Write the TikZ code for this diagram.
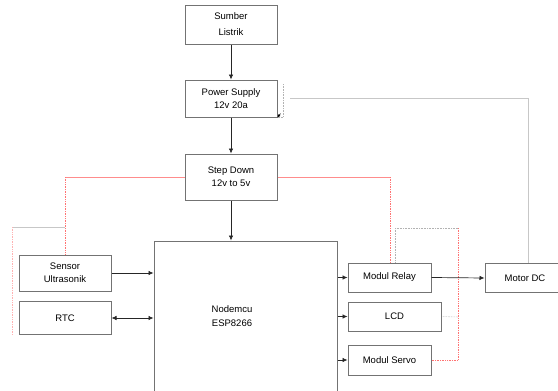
\documentclass[tikz,border=0pt]{standalone}
\usepackage{fontspec}
\setmainfont{Liberation Sans}
\usetikzlibrary{arrows.meta,backgrounds,calc}
\begin{document}
\begin{tikzpicture}[x=1pt,y=-1pt,
  box/.style={draw=black!55, line width=1pt, fill=white, align=center,
    font=\fontsize{9.5}{13}\selectfont, inner sep=0pt},
  arr/.style={-{Latex[length=5pt,width=4.5pt]}, line width=0.7pt, draw=black!85},
  darr/.style={{Latex[length=5pt,width=4.5pt]}-{Latex[length=5pt,width=4.5pt]}, line width=0.7pt, draw=black!85},
  redline/.style={draw=red!55, densely dotted, line width=0.7pt},
  lredline/.style={draw=red!45, line width=0.7pt},
  grayline/.style={draw=black!22, line width=0.6pt},
  gdot/.style={draw=black!30, densely dotted, line width=0.6pt}]
\useasboundingbox (0,0) rectangle (558,391);
\clip (0,0) rectangle (558,391);

\node[box, minimum width=92pt, minimum height=39pt] (sumber) at (231,24.5) {Sumber\\[3pt]Listrik};
\node[box, minimum width=92pt, minimum height=37pt] (ps) at (231,98.5) {Power Supply\\12v 20a};
\node[box, minimum width=92pt, minimum height=46pt] (sd) at (231,177) {Step Down\\12v to 5v};
\node[box, minimum width=183pt, minimum height=156pt] (mcu) at (245.5,319) {};
\node[font=\fontsize{9.5}{13.5}\selectfont, align=center] (mcut) at (232,316) {Nodemcu\\ESP8266};
\node[box, minimum width=92pt, minimum height=36pt] (sensor) at (65,273) {Sensor\\Ultrasonik};
\node[box, minimum width=92pt, minimum height=33pt] (rtc) at (65,318) {RTC};
\node[box, minimum width=83pt, minimum height=29pt] (relay) at (389.5,277.5) {Modul Relay};
\node[box, minimum width=93pt, minimum height=29pt] (lcd) at (394.5,316.5) {LCD};
\node[box, minimum width=83pt, minimum height=30pt] (servo) at (389.5,360) {Modul Servo};
\node[box, minimum width=80pt, minimum height=29pt] (mot) at (525,278) {Motor DC};

\coordinate (g1) at (528,98);
\coordinate (g2) at (290,98);
\coordinate (g3) at (283,84);
\coordinate (r1) at (65,177);
\coordinate (r2) at (390,177);
\coordinate (r3) at (65,227);
\coordinate (r4) at (12,227);
\coordinate (r5) at (12,335);
\coordinate (r6) at (395,228);
\coordinate (r7) at (458,228);
\coordinate (r8) at (458,360);
\coordinate (r9) at (458,317);
\coordinate (pa) at ($(ps.south east)+(3,-4)$);

\begin{scope}[on background layer]
  \draw[grayline] (mot.north -| g1) -- (g1) -- (g2);
  \draw[gdot] (g3) -- (ps.south east -| g3) -- (ps.south east);
  \draw[lredline] (r1) -- (sd.west);
  \draw[lredline] (sd.east) -- (r2);
  \draw[redline] (r2) -- (relay.north -| r2);
  \draw[redline] (r1) -- (sensor.north -| r1);
  \draw[grayline] (r3) -- (r4);
  \draw[redline, draw=red!30] (r4) -- (r5);
  \draw[gdot] (r6) -- (r7);
  \draw[gdot] (r6) -- (relay.north -| r6);
  \draw[redline] (r7) -- (r8);
  \draw[gdot] (lcd.east) -- (r9);
  \draw[redline] (servo.east |- r8) -- (r8);
\end{scope}

\draw[-{Latex[length=3pt,width=3pt]}, line width=0.6pt] (pa) -- (ps.south east);
\draw[arr] (sumber) -- (ps);
\draw[arr] (ps) -- (sd);
\draw[arr] (sd) -- (sd.south |- mcu.north);
\draw[arr] (sensor.east) -- (sensor.east -| mcu.west);
\draw[darr] (rtc.east) -- (rtc.east -| mcu.west);
\draw[arr] (relay.west -| mcu.east) -- (relay.west);
\draw[arr] (lcd.west -| mcu.east) -- (lcd.west);
\draw[arr] (servo.west -| mcu.east) -- (servo.west);
\draw[arr] (relay.east) -- (mot.west);
\end{tikzpicture}
\end{document}
